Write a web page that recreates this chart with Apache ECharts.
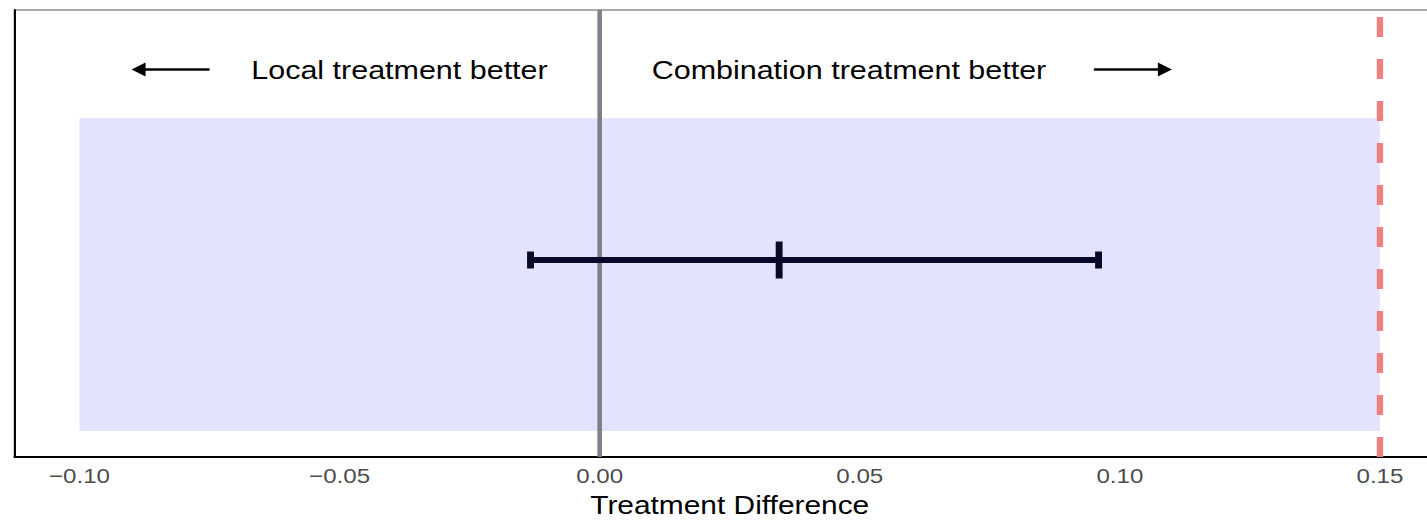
<!DOCTYPE html>
<html>
<head>
<meta charset="utf-8">
<script src="https://cdn.jsdelivr.net/npm/echarts@6/dist/echarts.min.js"></script>
<style>
  html, body { margin: 0; padding: 0; background: #fff; overflow: hidden; width: 1427px; height: 520px; }
  #chart { width: 1260px; height: 520px; transform: scaleX(1.15); transform-origin: 0 0; }
</style>
</head>
<body>
<div id="chart"></div>
<script>
// ---- data ----
const xLimits = [-0.1125, 0.1625];
const yLimits = [0, 1];
const tickValues = [-0.10, -0.05, 0.00, 0.05, 0.10, 0.15];
const tickLabels = ['\u22120.10', '\u22120.05', '0.00', '0.05', '0.10', '0.15'];
const axisTitle = 'Treatment Difference';

const shadeX = [-0.10, 0.15];
const shadeY = [0.058, 0.758];

const zeroLineX = [0];
const marginLineX = [0.15];

const estimate = [0.0345];
const lowerCI = [-0.0133];
const upperCI = [0.0959];
const barY = [0.4407];

const arrowTail = [-0.075, 0.095];
const arrowTip = [-0.09, 0.11];
const arrowY = [0.867, 0.867];

const noteText = ['Local treatment better', 'Combination treatment better'];
const noteX = [-0.01, 0.01];
const noteY = [0.867, 0.867];
const noteAlign = ['right', 'left'];

// ---- chart ----
const FONT = '"Liberation Sans", Arial, Helvetica, sans-serif';
const chart = echarts.init(document.getElementById('chart'), null, { renderer: 'svg' });

function vline(color, width, dash) {
  return function (params, api) {
    const p0 = api.coord([api.value(0), yLimits[0]]);
    const p1 = api.coord([api.value(0), yLimits[1]]);
    return {
      type: 'line',
      shape: { x1: p0[0], y1: p0[1], x2: p1[0], y2: p1[1] },
      style: { stroke: color, lineWidth: width, lineDash: dash || null }
    };
  };
}

const option = {
  animation: false,
  backgroundColor: '#ffffff',
  grid: {
    left: 12.6, right: 3.5, top: 10, bottom: 63,
    outerBoundsMode: 'none', containLabel: false,
    show: true, borderColor: '#555555', borderWidth: 1.2, backgroundColor: 'transparent'
  },
  xAxis: {
    type: 'value',
    min: xLimits[0], max: xLimits[1],
    axisLine: { show: true, onZero: false, lineStyle: { color: '#000', width: 1.8 } },
    axisTick: { show: false },
    splitLine: { show: false },
    axisLabel: {
      customValues: tickValues,
      formatter: function (v) {
        let best = 0;
        tickValues.forEach((t, i) => { if (Math.abs(t - v) < Math.abs(tickValues[best] - v)) best = i; });
        return tickLabels[best];
      },
      color: '#4d4d4d', fontSize: 21, fontFamily: FONT, margin: 9
    },
    name: axisTitle,
    nameLocation: 'middle',
    nameGap: 33,
    nameTextStyle: { color: '#000', fontSize: 26, fontFamily: FONT }
  },
  yAxis: {
    type: 'value',
    min: yLimits[0], max: yLimits[1],
    axisLine: { show: true, onZero: false, lineStyle: { color: '#000', width: 1.8 } },
    axisTick: { show: false },
    axisLabel: { show: false },
    splitLine: { show: false }
  },
  series: [
    {
      type: 'custom', name: 'shade', z: 1, silent: true,
      data: [[shadeX[0], shadeX[1], shadeY[0], shadeY[1]]],
      renderItem: function (params, api) {
        const a = api.coord([api.value(0), api.value(3)]);
        const b = api.coord([api.value(1), api.value(2)]);
        return { type: 'rect', shape: { x: a[0], y: a[1], width: b[0] - a[0], height: b[1] - a[1] }, style: { fill: '#e3e3fb' } };
      }
    },
    {
      type: 'custom', name: 'zero', z: 2, silent: true,
      data: zeroLineX.map(v => [v]),
      renderItem: vline('#7f7f88', 4)
    },
    {
      type: 'custom', name: 'margin', z: 2, silent: true,
      data: marginLineX.map(v => [v]),
      renderItem: vline('#f08080', 5.5, [20, 22])
    },
    {
      type: 'custom', name: 'estimate', z: 3, silent: true,
      data: estimate.map((e, i) => [e, lowerCI[i], upperCI[i], barY[i]]),
      renderItem: function (params, api) {
        const pe = api.coord([api.value(0), api.value(3)]);
        const pl = api.coord([api.value(1), api.value(3)]);
        const pu = api.coord([api.value(2), api.value(3)]);
        const st = { stroke: '#0a0a28', lineWidth: 6 };
        const capH = 8.5, midH = 18.5;
        return {
          type: 'group',
          children: [
            { type: 'line', shape: { x1: pl[0], y1: pl[1], x2: pu[0], y2: pu[1] }, style: st },
            { type: 'line', shape: { x1: pl[0], y1: pl[1] - capH, x2: pl[0], y2: pl[1] + capH }, style: st },
            { type: 'line', shape: { x1: pu[0], y1: pu[1] - capH, x2: pu[0], y2: pu[1] + capH }, style: st },
            { type: 'line', shape: { x1: pe[0], y1: pe[1] - midH, x2: pe[0], y2: pe[1] + midH }, style: st }
          ]
        };
      }
    },
    {
      type: 'custom', name: 'arrows', z: 3, silent: true,
      data: arrowTail.map((t, i) => [t, arrowTip[i], arrowY[i]]),
      renderItem: function (params, api) {
        const a = api.coord([api.value(0), api.value(2)]);
        const b = api.coord([api.value(1), api.value(2)]);
        const dir = b[0] > a[0] ? 1 : -1;
        const hl = 12.2, hw = 7;
        const base = b[0] - dir * hl;
        return {
          type: 'group',
          children: [
            { type: 'line', shape: { x1: a[0], y1: a[1], x2: base + dir * 1, y2: b[1] }, style: { stroke: '#000', lineWidth: 2.6 } },
            { type: 'polygon', shape: { points: [[b[0], b[1]], [base, b[1] - hw], [base, b[1] + hw]] }, style: { fill: '#000' } }
          ]
        };
      }
    },
    {
      type: 'custom', name: 'notes', z: 3, silent: true,
      data: noteText.map((t, i) => [noteX[i], noteY[i]]),
      renderItem: function (params, api) {
        const p = api.coord([api.value(0), api.value(1)]);
        const i = params.dataIndex;
        return {
          type: 'text',
          style: { text: noteText[i], x: p[0], y: p[1], align: noteAlign[i], verticalAlign: 'middle', fill: '#000', font: '26.5px ' + FONT }
        };
      }
    }
  ]
};
chart.setOption(option);
</script>
</body>
</html>
